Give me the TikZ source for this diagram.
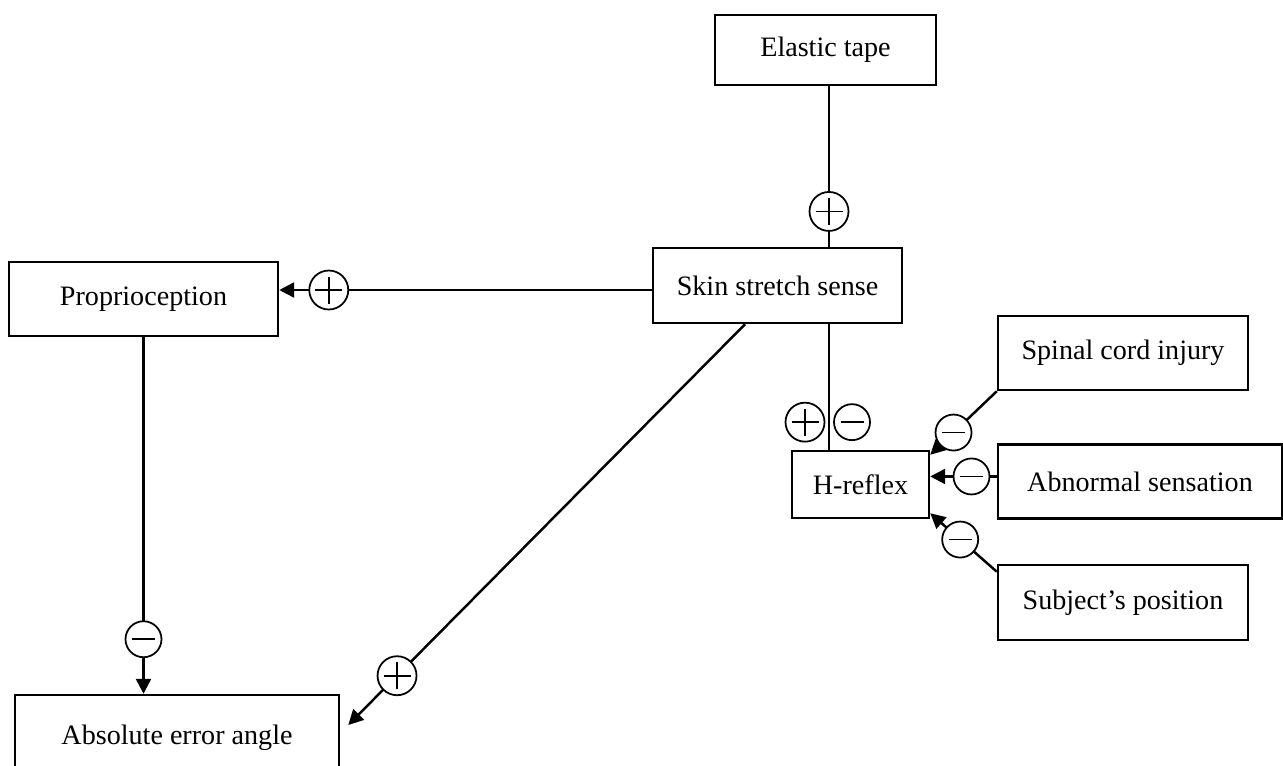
\documentclass[tikz,border=0pt]{standalone}
\usepackage{fontspec}
\setmainfont{Liberation Serif}
\usetikzlibrary{arrows.meta,positioning}

\begin{document}
\begin{tikzpicture}[x=0.02cm, y=-0.02cm, line width=1.4pt,
  box/.style args = {#1,#2}{draw, minimum width=#1*0.02cm, minimum height=#2*0.02cm, inner sep=0pt, font=\fontsize{16}{19}\selectfont},
  pos sign/.style={circle, draw, fill=white, line width=1pt, minimum size=0.78cm, inner sep=0pt,
    path picture={\draw[-, line width=1pt] ([xshift=-0.27cm]path picture bounding box.center) -- ([xshift=0.27cm]path picture bounding box.center)
      ([yshift=-0.27cm]path picture bounding box.center) -- ([yshift=0.27cm]path picture bounding box.center);}},
  neg sign/.style={circle, draw, fill=white, line width=1pt, minimum size=0.72cm, inner sep=0pt,
    path picture={\draw[-, line width=1pt] ([xshift=-0.23cm]path picture bounding box.center) -- ([xshift=0.23cm]path picture bounding box.center);}},
  arr/.style={-{Triangle[length=0.3cm,width=0.3cm]}}]
\useasboundingbox (0,0) rectangle (1283,765);
\node (elastic) [box={221,70}] at (825.5,50) {Elastic tape};
\node (skin) [box={249,75}] at (777.5,285.5) {Skin stretch sense};
\node (prop) [box={269,74}] at (143.5,299) {Proprioception};
\node (abs) [box={324,86}] at (177,738) {Absolute error angle};
\node (hreflex) [box={137,67}] at (860.5,484.5) {H-reflex};
\node (spinal) [box={250,74}] at (1123,353) {Spinal cord injury};
\node (abnormal) [box={284,74}, below right=1.04cm and 0cm of spinal.south west] {Abnormal sensation};
\node (subject) [box={250,75}, below right=0.88cm and 0cm of abnormal.south west] {Subject's position};
\coordinate (stem) at ([xshift=0.07cm]elastic.south);
% skin stretch sense and its inputs
\draw (stem) -- node[pos sign, pos=0.78]{} (stem |- skin.north);
\draw[arr] ([yshift=-0.09cm]skin.west) -- node[pos sign, pos=0.867]{} ([yshift=-0.09cm]skin.west -| prop.east);
\draw[arr] (prop.south) -- node[neg sign, pos=0.847]{} (prop.south |- abs.north);
\draw[arr] ([xshift=-0.65cm]skin.south) -- node[pos sign, pos=0.877]{} ([shift={(0.16cm,0.26cm)}]abs.east);
% H-reflex
\draw (stem |- skin.south) -- node[pos sign, pos=0.78, xshift=-0.48cm]{} node[neg sign, pos=0.78, xshift=0.46cm]{} (stem |- hreflex.north);
\draw[arr] (spinal.south west) -- node[neg sign, pos=0.65]{} ([yshift=-0.1cm]hreflex.north east);
\draw[arr] ([yshift=0.1cm]abnormal.west) -- node[neg sign, pos=0.38]{} ([yshift=0.1cm]abnormal.west -| hreflex.east);
\draw[arr] ([yshift=-0.16cm]subject.north west) -- node[neg sign, pos=0.55]{} ([yshift=0.12cm]hreflex.south east);
\end{tikzpicture}
\end{document}
